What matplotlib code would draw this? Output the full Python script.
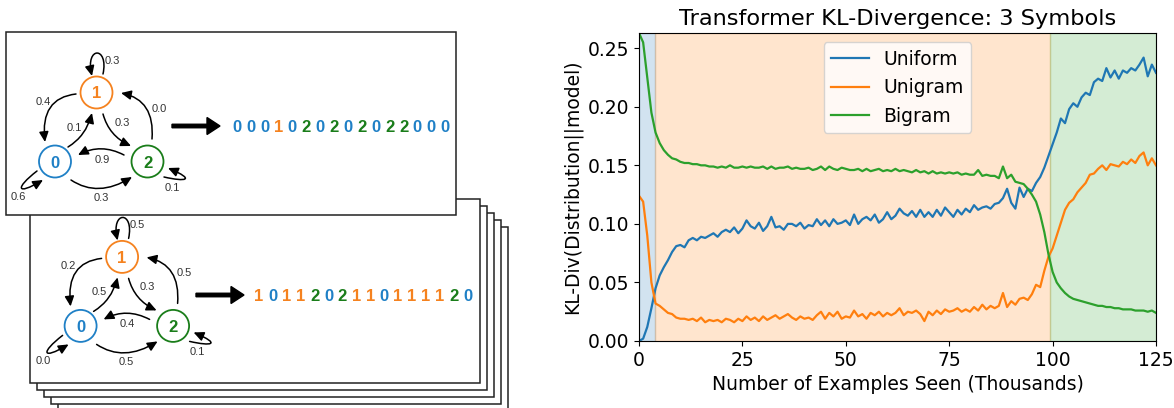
import numpy as np
import matplotlib.pyplot as plt
from matplotlib.patches import Circle, Rectangle, FancyArrowPatch, FancyArrow
from matplotlib.path import Path

# ---- chart data (thousands of examples seen, KL divergence) ----
examples_k = np.arange(0, 126)

uniform = [
    0.000, 0.002, 0.012, 0.028, 0.045, 0.056, 0.063, 0.069, 0.076, 0.081,
    0.082, 0.080, 0.086, 0.088, 0.086, 0.089, 0.088, 0.090, 0.092, 0.089,
    0.093, 0.095, 0.093, 0.097, 0.092, 0.096, 0.103, 0.098, 0.096, 0.101,
    0.094, 0.098, 0.106, 0.097, 0.098, 0.095, 0.100, 0.100, 0.098, 0.101,
    0.096, 0.099, 0.098, 0.104, 0.099, 0.103, 0.098, 0.104, 0.100, 0.101,
    0.103, 0.099, 0.108, 0.100, 0.104, 0.106, 0.103, 0.108, 0.101, 0.104,
    0.110, 0.104, 0.107, 0.113, 0.109, 0.107, 0.111, 0.106, 0.112, 0.106,
    0.110, 0.106, 0.112, 0.107, 0.114, 0.110, 0.106, 0.112, 0.108, 0.113,
    0.110, 0.116, 0.112, 0.114, 0.115, 0.113, 0.117, 0.118, 0.122, 0.130,
    0.118, 0.113, 0.131, 0.123, 0.130, 0.128, 0.135, 0.140, 0.148, 0.158,
    0.168, 0.178, 0.190, 0.186, 0.198, 0.203, 0.200, 0.208, 0.212, 0.210,
    0.221, 0.224, 0.222, 0.233, 0.225, 0.231, 0.224, 0.231, 0.229, 0.233,
    0.231, 0.236, 0.242, 0.226, 0.236, 0.229]

unigram = [
    0.124, 0.119, 0.090, 0.050, 0.032, 0.030, 0.027, 0.024, 0.023, 0.020,
    0.019, 0.019, 0.018, 0.019, 0.017, 0.020, 0.016, 0.018, 0.017, 0.018,
    0.016, 0.019, 0.018, 0.016, 0.019, 0.017, 0.021, 0.018, 0.020, 0.017,
    0.021, 0.018, 0.020, 0.022, 0.019, 0.021, 0.023, 0.020, 0.018, 0.021,
    0.019, 0.020, 0.018, 0.022, 0.025, 0.019, 0.024, 0.021, 0.025, 0.019,
    0.021, 0.020, 0.026, 0.021, 0.023, 0.019, 0.024, 0.022, 0.025, 0.021,
    0.024, 0.022, 0.024, 0.028, 0.022, 0.025, 0.024, 0.026, 0.023, 0.017,
    0.025, 0.022, 0.026, 0.023, 0.027, 0.025, 0.026, 0.028, 0.025, 0.027,
    0.025, 0.029, 0.026, 0.031, 0.027, 0.030, 0.028, 0.030, 0.041, 0.029,
    0.034, 0.031, 0.036, 0.037, 0.035, 0.040, 0.048, 0.046, 0.060, 0.072,
    0.079, 0.090, 0.101, 0.112, 0.118, 0.121, 0.127, 0.131, 0.135, 0.142,
    0.143, 0.147, 0.150, 0.146, 0.151, 0.150, 0.149, 0.153, 0.151, 0.155,
    0.152, 0.158, 0.161, 0.150, 0.156, 0.150]

bigram = [
    0.263, 0.255, 0.225, 0.195, 0.178, 0.169, 0.163, 0.159, 0.156, 0.155,
    0.153, 0.152, 0.152, 0.151, 0.151, 0.150, 0.150, 0.149, 0.149, 0.148,
    0.149, 0.148, 0.150, 0.148, 0.148, 0.149, 0.148, 0.149, 0.148, 0.148,
    0.149, 0.147, 0.149, 0.147, 0.148, 0.148, 0.149, 0.147, 0.148, 0.147,
    0.147, 0.148, 0.146, 0.147, 0.149, 0.146, 0.149, 0.147, 0.146, 0.148,
    0.147, 0.146, 0.146, 0.147, 0.145, 0.147, 0.145, 0.146, 0.147, 0.145,
    0.146, 0.145, 0.147, 0.145, 0.146, 0.145, 0.144, 0.146, 0.144, 0.145,
    0.143, 0.145, 0.143, 0.144, 0.143, 0.144, 0.143, 0.144, 0.142, 0.143,
    0.142, 0.142, 0.146, 0.141, 0.142, 0.141, 0.141, 0.139, 0.149, 0.139,
    0.142, 0.136, 0.135, 0.134, 0.130, 0.125, 0.119, 0.108, 0.093, 0.074,
    0.059, 0.050, 0.045, 0.041, 0.038, 0.036, 0.035, 0.034, 0.033, 0.032,
    0.031, 0.030, 0.030, 0.029, 0.029, 0.028, 0.028, 0.027, 0.027, 0.027,
    0.026, 0.026, 0.026, 0.025, 0.026, 0.024]

# training phases shaded behind the curves
phase_edges = [0, 3.9, 99.4, 125]
phase_colors = ['tab:blue', 'tab:orange', 'tab:green']

# ---- diagram data: two example Markov chains and sampled sequences ----
# edge order: 1->1, 1->0, 0->1, 1->2, 2->1, 2->0, 0->2, 0->0, 2->2
chain_a_probs = [0.3, 0.4, 0.1, 0.3, 0.0, 0.9, 0.3, 0.6, 0.1]
chain_b_probs = [0.5, 0.2, 0.5, 0.3, 0.5, 0.4, 0.5, 0.0, 0.1]
seq_a = "0001020202022000"
seq_b = "1011202110111120"

sym_colors = {'0': '#1f80c6', '1': '#f5821f', '2': '#1a7d1a'}
node_pos = {'1': (96.5, 92.5), '0': (55, 161.5), '2': (147.5, 161.5)}

# geometry of the edges relative to the first chain (pixels)
edge_paths = [
    [(103, 74), (109, 46), (85, 46), (92, 76)],   # 1->1
    [(76, 94), (40, 98), (45, 142)],              # 1->0
    [(68, 147), (86, 136), (92, 113)],            # 0->1
    [(103, 114), (109, 136), (131, 146)],         # 1->2
    [(152, 139), (155, 100), (121, 93)],          # 2->1
    [(124, 155), (101, 143), (78, 155)],          # 2->0
    [(71, 180), (98, 198), (132, 177)],           # 0->2
    [(37, 171), (15, 188), (16, 196), (43, 180)],  # 0->0
    [(164, 177), (186, 182), (196, 180), (168, 168)],  # 2->2
]
label_pos = [(112, 61), (43, 102), (74, 128), (122, 123), (159, 109),
             (102, 160), (101, 198), (18, 197), (172, 188)]

W, H = 1174, 408
fig = plt.figure(figsize=(W / 100, H / 100), dpi=100)

# ---------------- left: diagram ----------------
axd = fig.add_axes([0, 0, 520 / W, 1])
axd.set_xlim(0, 520)
axd.set_ylim(H, 0)
axd.axis('off')

diag_font = 'Liberation Sans'


def draw_chain(ox, oy, probs, seq, arrow_x, arrow_y, seq_x, z):
    for pts, p, (lx, ly) in zip(edge_paths, probs, label_pos):
        pts = [(x + ox, y + oy) for x, y in pts]
        if len(pts) == 4:
            codes = [Path.MOVETO, Path.CURVE4, Path.CURVE4, Path.CURVE4]
        else:
            codes = [Path.MOVETO, Path.CURVE3, Path.CURVE3]
        arr = FancyArrowPatch(path=Path(pts, codes),
                              arrowstyle='-|>,head_length=0.6,head_width=0.28',
                              mutation_scale=10, lw=1.1, color='black', zorder=z)
        axd.add_patch(arr)
        axd.text(lx + ox, ly + oy, f"{p:.1f}", fontsize=8, color='#333333',
                 ha='center', va='center', family=diag_font, zorder=z)
    for s, (nx, ny) in node_pos.items():
        axd.add_patch(Circle((nx + ox, ny + oy), 16, facecolor='white',
                             edgecolor=sym_colors[s], lw=1.3, zorder=z + 1))
        axd.text(nx + ox, ny + oy + 6, s, fontsize=12, fontweight='bold',
                 color=sym_colors[s], ha='center', va='baseline',
                 family=diag_font, zorder=z + 2)
    axd.add_patch(FancyArrow(arrow_x, arrow_y, 48, 0, width=3.5, head_width=17,
                             head_length=13, length_includes_head=True,
                             color='black', zorder=z))
    for i, s in enumerate(seq):
        axd.text(seq_x + i * 13.9, arrow_y + 6, s, fontsize=12,
                 fontweight='bold', color=sym_colors[s], ha='center',
                 va='baseline', family=diag_font, zorder=z)


# stack of cards behind
for k in range(4, -1, -1):
    axd.add_patch(Rectangle((30 + 7 * k, 199 + 7 * k), 450, 184,
                            facecolor='white', edgecolor='#222222', lw=1.1,
                            zorder=1 + (4 - k), clip_on=False))
draw_chain(25.6, 164.4, chain_b_probs, seq_b, 196, 295, 259, 10)

axd.add_patch(Rectangle((6, 32), 450, 183, facecolor='white',
                        edgecolor='#222222', lw=1.1, zorder=20))
draw_chain(0, 0, chain_a_probs, seq_a, 172, 126, 236.7, 21)

# ---------------- right: KL divergence chart ----------------
ax = fig.add_axes([639 / W, 67 / H, 517 / W, 308 / H])
for i, c in enumerate(phase_colors):
    ax.axvspan(phase_edges[i], phase_edges[i + 1], color=c, alpha=0.2)
ax.plot(examples_k, uniform, color='tab:blue', lw=1.6, label='Uniform')
ax.plot(examples_k, unigram, color='tab:orange', lw=1.6, label='Unigram')
ax.plot(examples_k, bigram, color='tab:green', lw=1.6, label='Bigram')
ax.set_xlim(0, 125)
ax.set_ylim(0, 0.263)
ax.set_xticks([0, 25, 50, 75, 100, 125])
ax.set_yticks([0.0, 0.05, 0.10, 0.15, 0.20, 0.25])
ax.yaxis.set_major_formatter(plt.FormatStrFormatter('%.2f'))
ax.tick_params(labelsize=13.5)
ax.set_xlabel("Number of Examples Seen (Thousands)", fontsize=13.5)
ax.set_ylabel("KL-Div(Distribution||model)", fontsize=13.5)
ax.set_title("Transformer KL-Divergence: 3 Symbols", fontsize=16.2)
ax.legend(loc='upper center', fontsize=13.5)

fig.savefig('out.png', dpi=100)
